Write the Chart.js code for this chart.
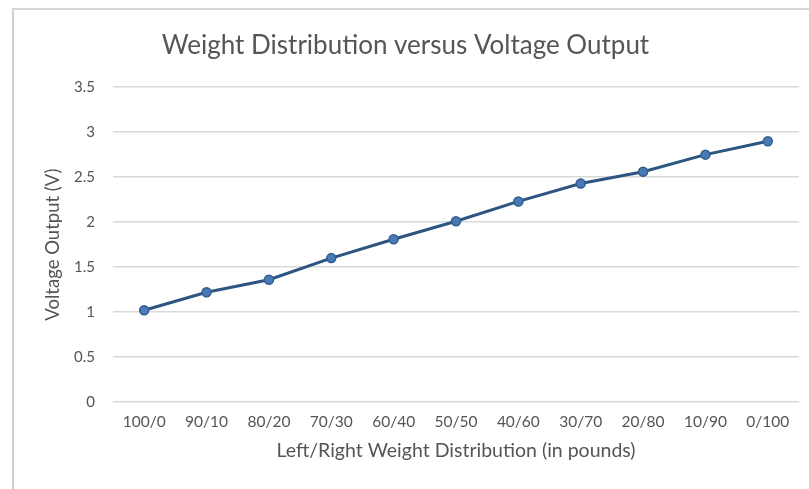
<!DOCTYPE html>
<html>
<head>
<meta charset="utf-8">
<script src="https://cdn.jsdelivr.net/npm/chart.js@4"></script>
<style>
  html, body { margin: 0; padding: 0; background: #fff; overflow: hidden; }
  #wrap { position: absolute; left: 0; top: 0; width: 809px; height: 489px; }
  #frame { position: absolute; left: 12px; top: 8px; width: 820px; height: 500px;
           border-left: 2px solid #cfcfcf; border-top: 2px solid #d6d6d6; box-sizing: border-box; }
  canvas { position: absolute; left: 0; top: 0; }
</style>
</head>
<body>
<div id="wrap">
  <div id="frame"></div>
  <canvas id="c" width="809" height="489"></canvas>
</div>
<script>
const categories = ["100/0", "90/10", "80/20", "70/30", "60/40", "50/50", "40/60", "30/70", "20/80", "10/90", "0/100"];
const voltage = [1.02, 1.22, 1.36, 1.60, 1.81, 2.01, 2.23, 2.43, 2.56, 2.75, 2.90];
const yTicks = [0, 0.5, 1, 1.5, 2, 2.5, 3, 3.5];

const FONT = "Lato, 'Open Sans', sans-serif";
const GREY = "#555555";

new Chart(document.getElementById('c'), {
  type: 'line',
  data: {
    labels: categories,
    datasets: [{
      data: voltage,
      borderColor: '#2c5582',
      borderWidth: 3,
      backgroundColor: '#4a7ab5',
      pointBackgroundColor: '#4a7ab5',
      pointBorderColor: '#2f5d8f',
      pointBorderWidth: 1.5,
      pointRadius: 4.5,
      tension: 0,
      fill: false
    }]
  },
  options: {
    responsive: false,
    animation: false,
    devicePixelRatio: 1,
    layout: { padding: { left: 12, right: 10, top: 26, bottom: 0 } },
    plugins: {
      legend: { display: false },
      tooltip: { enabled: false },
      title: {
        display: true,
        text: 'Weight Distribution versus Voltage Output',
        color: GREY,
        font: { family: FONT, size: 26, weight: 'normal' },
        padding: { top: 4, bottom: 26 }
      }
    },
    scales: {
      x: {
        offset: true,
        grid: { display: false, drawTicks: false },
        border: { display: false },
        ticks: { color: GREY, font: { family: FONT, size: 15.5 }, padding: 11, maxRotation: 0, autoSkip: false },
        title: {
          display: true,
          text: 'Left/Right Weight Distribution (in pounds)',
          color: GREY,
          font: { family: FONT, size: 19.5 },
          padding: { top: 6, bottom: 27 }
        },
        afterFit: (s) => { s.height = 87; }
      },
      y: {
        min: 0,
        max: 3.5,
        afterBuildTicks: (s) => { s.ticks = yTicks.map(v => ({ value: v })); },
        grid: { color: '#d9d9d9', lineWidth: 1.5, drawTicks: false },
        border: { display: false },
        ticks: { color: GREY, font: { family: FONT, size: 15 }, padding: 18, callback: (v) => String(v) },
        title: {
          display: true,
          text: 'Voltage Output (V)',
          color: GREY,
          font: { family: FONT, size: 18.5 },
          padding: { top: 30, bottom: 0 }
        },
        afterFit: (s) => { s.width = 101; }
      }
    }
  }
});
</script>
</body>
</html>
